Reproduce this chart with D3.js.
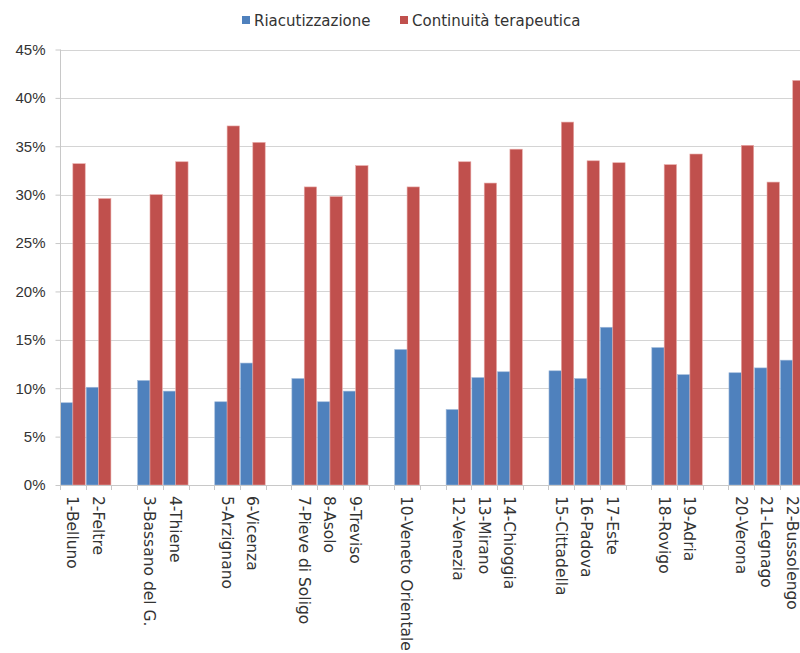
<!DOCTYPE html>
<html>
<head>
<meta charset="utf-8">
<script src="https://cdn.jsdelivr.net/npm/d3@7"></script>
<style>
  html, body { margin: 0; padding: 0; background: #fff; }
  svg { display: block; font-family: "DejaVu Sans", Verdana, sans-serif; }
</style>
</head>
<body>
<svg id="chart" width="800" height="653"></svg>
<script>
// Category slots along the x axis; null marks an empty spacer slot between groups.
const categories = [
  "1-Belluno", "2-Feltre", null,
  "3-Bassano del G.", "4-Thiene", null,
  "5-Arzignano", "6-Vicenza", null,
  "7-Pieve di Soligo", "8-Asolo", "9-Treviso", null,
  "10-Veneto Orientale", null,
  "12-Venezia", "13-Mirano", "14-Chioggia", null,
  "15-Cittadella", "16-Padova", "17-Este", null,
  "18-Rovigo", "19-Adria", null,
  "20-Verona", "21-Legnago", "22-Bussolengo"
];

// Percent values per slot (null for spacer slots).
const riacutizzazione = [
  8.5, 10.1, null,
  10.8, 9.7, null,
  8.6, 12.6, null,
  11.0, 8.6, 9.7, null,
  14.0, null,
  7.8, 11.1, 11.7, null,
  11.8, 11.0, 16.3, null,
  14.2, 11.4, null,
  11.6, 12.1, 12.9
];

const continuitaTerapeutica = [
  33.2, 29.6, null,
  30.0, 33.4, null,
  37.1, 35.4, null,
  30.8, 29.8, 33.0, null,
  30.8, null,
  33.4, 31.2, 34.7, null,
  37.5, 33.5, 33.3, null,
  33.1, 34.2, null,
  35.1, 31.3, 41.8
];

const yTicks = [0, 5, 10, 15, 20, 25, 30, 35, 40, 45];

const seriesNames = ["Riacutizzazione", "Continuità terapeutica"];
const seriesColors = ["#4F81BD", "#C0504D"];

const svg = d3.select("#chart");
const W = 800;
const plotLeft = 60, plotTop = 49.5, plotBottom = 485;
const slotW = 25.71;

const slots = d3.range(categories.length);
const x = d3.scaleBand()
  .domain(slots)
  .range([plotLeft, plotLeft + slotW * categories.length])
  .paddingInner(0)
  .paddingOuter(0);

const inner = d3.scaleBand()
  .domain([0, 1])
  .range([0, x.bandwidth()])
  .paddingOuter(0.04)
  .paddingInner(0);

const y = d3.scaleLinear().domain([0, 45]).range([plotBottom, plotTop]);

const plot = svg.append("g");

// Horizontal gridlines
plot.append("g")
  .selectAll("line")
  .data(yTicks.filter(d => d > 0))
  .join("line")
  .attr("x1", plotLeft)
  .attr("x2", W)
  .attr("y1", d => Math.round(y(d)) + 0.5)
  .attr("y2", d => Math.round(y(d)) + 0.5)
  .attr("stroke", "#d4d4d4")
  .attr("stroke-width", 1.2);

// Y axis
const yAxis = d3.axisLeft(y)
  .tickValues(yTicks)
  .tickFormat(d => d + "%")
  .tickSize(5)
  .tickPadding(10);

const yg = svg.append("g")
  .attr("transform", `translate(${plotLeft + 0.5},0)`)
  .call(yAxis);
yg.select(".domain").attr("stroke", "#c8c8c8").attr("d", `M0,${y(45)}V${plotBottom}`);
yg.selectAll(".tick line").attr("stroke", "#c8c8c8");
yg.selectAll(".tick text")
  .attr("fill", "#333")
  .style("font-size", "15px");

// Bars
const seriesData = [riacutizzazione, continuitaTerapeutica];
seriesData.forEach((vals, si) => {
  plot.append("g")
    .selectAll("rect")
    .data(slots.filter(i => vals[i] != null))
    .join("rect")
    .attr("x", i => x(i) + inner(si))
    .attr("width", inner.bandwidth())
    .attr("y", i => y(vals[i]))
    .attr("height", i => plotBottom - y(vals[i]))
    .attr("fill", seriesColors[si])
    .attr("stroke", si === 1 ? "#e8a9a7" : "#9fb9da")
    .attr("stroke-width", 0.6);
});

// X axis baseline and boundary ticks
const xg = svg.append("g");
xg.append("line")
  .attr("x1", plotLeft)
  .attr("x2", W)
  .attr("y1", plotBottom + 0.5)
  .attr("y2", plotBottom + 0.5)
  .attr("stroke", "#c8c8c8")
  .attr("stroke-width", 1.2);
xg.selectAll("line.tick")
  .data(d3.range(categories.length + 1))
  .join("line")
  .attr("class", "tick")
  .attr("x1", i => Math.round(plotLeft + i * x.step()) + 0.5)
  .attr("x2", i => Math.round(plotLeft + i * x.step()) + 0.5)
  .attr("y1", plotBottom)
  .attr("y2", plotBottom + 5)
  .attr("stroke", "#c8c8c8");

// Rotated category labels
xg.selectAll("text")
  .data(slots.filter(i => categories[i] != null))
  .join("text")
  .attr("transform", i => `translate(${x(i) + x.bandwidth() / 2},${plotBottom + 11}) rotate(90)`)
  .attr("dy", "0.36em")
  .attr("text-anchor", "start")
  .attr("fill", "#333")
  .style("font-size", "15.5px")
  .text(i => categories[i]);

// Legend
const legend = svg.append("g");
const legendItems = [
  { name: seriesNames[0], color: seriesColors[0], x: 242 },
  { name: seriesNames[1], color: seriesColors[1], x: 400 }
];
legendItems.forEach(item => {
  legend.append("rect")
    .attr("x", item.x)
    .attr("y", 16)
    .attr("width", 8)
    .attr("height", 8)
    .attr("fill", item.color);
  legend.append("text")
    .attr("x", item.x + 12)
    .attr("y", 26)
    .attr("fill", "#333")
    .style("font-size", "15px")
    .text(item.name);
});
</script>
</body>
</html>
